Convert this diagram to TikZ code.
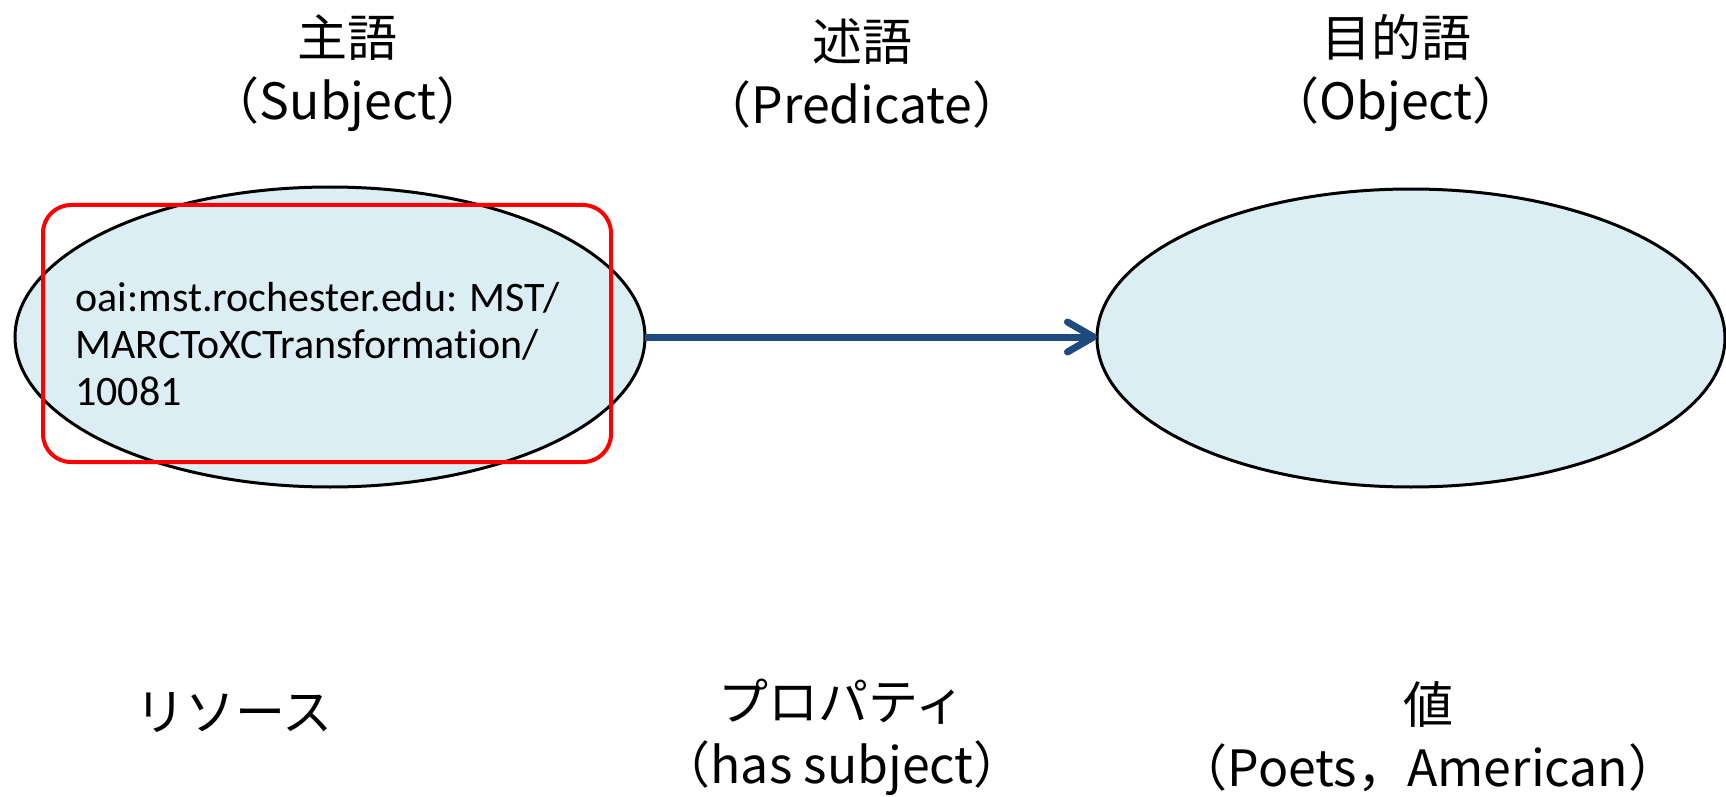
\documentclass[tikz,border=0pt]{standalone}
\usepackage{fontspec}
\setmainfont{Carlito}[Ligatures=NoCommon]
\newfontfamily\jp{Noto Sans CJK JP}
\usetikzlibrary{arrows.meta}
\definecolor{ellfill}{HTML}{DAEEF3}
\definecolor{arrblue}{HTML}{1F4A7D}
\begin{document}
\begin{tikzpicture}[x=0.5pt,y=-0.5pt,
  ellline/.style={fill=ellfill,draw=black,line width=1.5pt},
  lab/.style={font=\jp\fontsize{25pt}{31.5pt}\selectfont,align=center,inner sep=0pt},
  idtext/.style={font=\fontsize{21pt}{23.5pt}\selectfont,align=left,anchor=west,inner sep=0pt},
  redbox/.style={draw=red,line width=2pt,rounded corners=14pt},
  link/.style={draw=arrblue,line width=3.5pt,-{Straight Barb[length=13pt,width=15pt,round]}}]
\useasboundingbox (0,0) rectangle (1726,797);
\path[ellline] (330,337) ellipse [x radius=315,y radius=150];
\path[ellline] (1411,338) ellipse [x radius=314,y radius=149];
\coordinate (s) at (645,337);
\coordinate (o) at (1097,337);
\node[idtext] (uri) at (75,344) {oai:mst.rochester.edu: MST/\\MARCToXCTransformation/\\10081};
\draw[redbox] (43,205) rectangle (611,462);
\draw[link] (s) -- (o);
\node[lab] (subj) at (348,73) {主語\\（Subject）};
\node[lab] (pred) at (862,73) {述語\\（Predicate）};
\node[lab] (obj) at (1396,73) {目的語\\（Object）};
\node[lab] (res) at (234,713) {リソース};
\node[lab] (prop) at (842,737) {プロパティ\\（has subject）};
\node[lab] (val) at (1428,737) {値\\（Poets，American）};
\end{tikzpicture}
\end{document}
